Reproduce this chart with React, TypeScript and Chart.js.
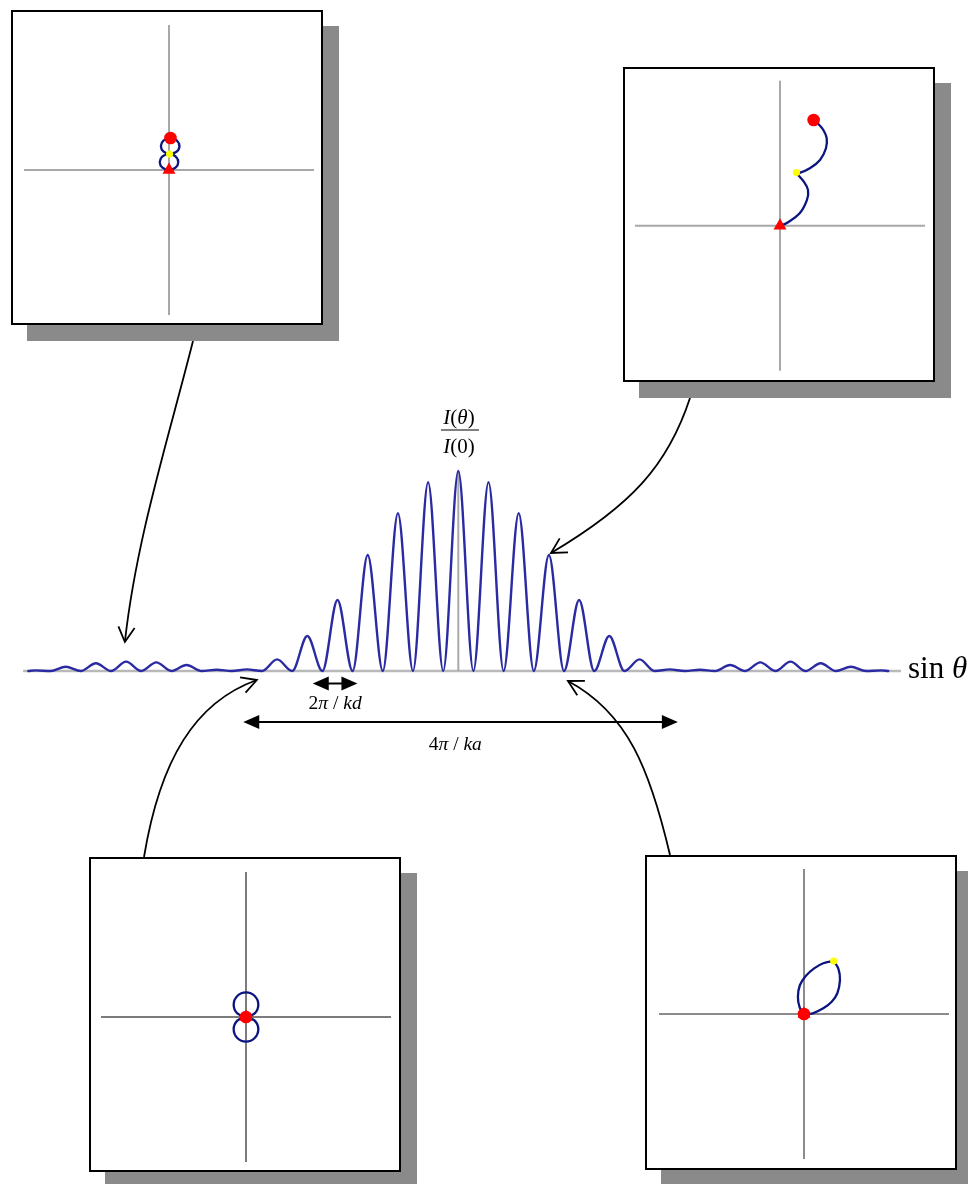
import React, { useEffect, useRef } from "react";
import { Chart, registerables } from "chart.js";

Chart.register(...registerables);

const PAGE_W = 968;
const PAGE_H = 1184;

// ---- Two-slit intensity pattern -------------------------------------------
// sinθ measured in units of the fringe spacing 2π/kd; intensity as I(θ)/I(0)
const brightOrder = [
  -14, -13, -12, -11, -10, -9, -8, -7, -6, -5, -4, -3, -2, -1, 0,
  1, 2, 3, 4, 5, 6, 7, 8, 9, 10, 11, 12, 13, 14,
];
const brightIntensity = [
  0.003, 0.021, 0.039, 0.047, 0.043, 0.03, 0.006, 0.008, 0.058, 0.175, 0.355, 0.58, 0.789, 0.944, 1.0,
  0.944, 0.789, 0.58, 0.355, 0.175, 0.058, 0.008, 0.006, 0.03, 0.043, 0.047, 0.039, 0.021, 0.003,
];
const darkOrder = [
  -13.5, -12.5, -11.5, -10.5, -9.5, -8.5, -7.5, -6.5, -5.5, -4.5, -3.5, -2.5, -1.5, -0.5,
  0.5, 1.5, 2.5, 3.5, 4.5, 5.5, 6.5, 7.5, 8.5, 9.5, 10.5, 11.5, 12.5, 13.5,
];
const patternEdges = [-14.24, 14.24];

// Axis extents of the main plot
const sinAxisRange = [-14.41, 14.66];
const intensityAxisTop = 1.0;

// Marked widths under the pattern (sinθ units)
const fringeWidthMark = [-4.82, -3.34];
const envelopeWidthMark = [-7.12, 7.27];

// Where the phasor insets point on the pattern (sinθ, intensity)
const pointerTips = [
  { x: -11.04, y: 0.145 },
  { x: 3.07, y: 0.59 },
  { x: -6.67, y: -0.045 },
  { x: 3.63, y: -0.05 },
];

// ---- Phasor diagrams (axis half-length = 10 units) -------------------------
type P = { x: number; y: number };
const pt = (x: number, y: number): P => ({ x, y });

const phasorAxis = [-10, 10];

// near a secondary envelope maximum: two small loops
const loopsFirstSlit: P[] = [
  pt(0, 0), pt(0.45, 0.16), pt(0.64, 0.55), pt(0.45, 0.94), pt(0, 1.1), pt(-0.45, 0.94),
  pt(-0.64, 0.55), pt(-0.45, 0.16), pt(0, 0), pt(0.45, 0.16), pt(0.64, 0.55), pt(0.45, 0.94), pt(0.04, 1.1),
];
const loopsSecondSlit: P[] = [
  pt(0.04, 1.1), pt(0.53, 1.26), pt(0.72, 1.65), pt(0.53, 2.04), pt(0.08, 2.2), pt(-0.37, 2.04),
  pt(-0.56, 1.65), pt(-0.37, 1.26), pt(0.08, 1.1), pt(0.53, 1.26), pt(0.72, 1.65), pt(0.53, 2.04), pt(0.1, 2.21),
];

// bright fringe on the envelope flank: two arcs in step
const arcFirstSlit: P[] = [
  pt(0, 0), pt(0.44, 0.17), pt(1.36, 0.86), pt(1.86, 1.78), pt(1.93, 2.47), pt(1.63, 3.05), pt(1.24, 3.51), pt(1.13, 3.67),
];
const arcSecondSlit: P[] = [
  pt(1.13, 3.67), pt(1.3, 3.62), pt(2.06, 3.96), pt(2.76, 4.53), pt(3.17, 5.34), pt(3.22, 6.03), pt(2.99, 6.6), pt(2.64, 7.01), pt(2.32, 7.29),
];

// envelope zero: each slit closes a full circle
const circleFirstSlit: P[] = [
  pt(0, 0), pt(0.6, 0.25), pt(0.85, 0.85), pt(0.6, 1.45), pt(0, 1.7), pt(-0.6, 1.45), pt(-0.85, 0.85), pt(-0.6, 0.25), pt(0, 0),
];
const circleSecondSlit: P[] = [
  pt(0, 0), pt(0.6, -0.25), pt(0.85, -0.85), pt(0.6, -1.45), pt(0, -1.7), pt(-0.6, -1.45), pt(-0.85, -0.85), pt(-0.6, -0.25), pt(0, 0),
];

// dark fringe: the second arc cancels the first
const lensFirstSlit: P[] = [
  pt(0, 0), pt(-0.3, 0.45), pt(-0.42, 1.19), pt(-0.28, 2.0), pt(0.15, 2.65), pt(0.7, 3.15), pt(1.33, 3.5), pt(2.05, 3.65),
];
const lensSecondSlit: P[] = [
  pt(2.05, 3.65), pt(2.38, 3.1), pt(2.48, 2.34), pt(2.3, 1.43), pt(1.91, 0.85), pt(1.33, 0.39), pt(0.6, 0.05), pt(0, 0),
];

// ---- text helpers ----------------------------------------------------------
type Run = { t: string; it?: boolean };
const SERIF = '"Liberation Serif", "DejaVu Serif", serif';

function drawRuns(
  ctx: CanvasRenderingContext2D,
  runs: Run[],
  x: number,
  baseline: number,
  size: number,
  align: "center" | "left" = "center"
) {
  const font = (r: Run) => `${r.it ? "italic " : ""}${size}px ${SERIF}`;
  let total = 0;
  for (const r of runs) {
    ctx.font = font(r);
    total += ctx.measureText(r.t).width;
  }
  let cx = align === "center" ? x - total / 2 : x;
  ctx.textAlign = "left";
  ctx.textBaseline = "alphabetic";
  for (const r of runs) {
    ctx.font = font(r);
    ctx.fillText(r.t, cx, baseline);
    cx += ctx.measureText(r.t).width;
  }
}

function openHead(ctx: CanvasRenderingContext2D, tx: number, ty: number, fx: number, fy: number) {
  const ang = Math.atan2(ty - fy, tx - fx);
  const len = 17;
  const spread = 0.5;
  ctx.beginPath();
  ctx.moveTo(tx - len * Math.cos(ang - spread), ty - len * Math.sin(ang - spread));
  ctx.lineTo(tx, ty);
  ctx.lineTo(tx - len * Math.cos(ang + spread), ty - len * Math.sin(ang + spread));
  ctx.stroke();
}

function doubleArrow(ctx: CanvasRenderingContext2D, x1: number, x2: number, y: number) {
  const head = 16;
  const half = 7;
  ctx.beginPath();
  ctx.moveTo(x1 + head - 2, y);
  ctx.lineTo(x2 - head + 2, y);
  ctx.stroke();
  ctx.beginPath();
  ctx.moveTo(x1, y);
  ctx.lineTo(x1 + head, y - half);
  ctx.lineTo(x1 + head, y + half);
  ctx.closePath();
  ctx.fill();
  ctx.beginPath();
  ctx.moveTo(x2, y);
  ctx.lineTo(x2 - head, y - half);
  ctx.lineTo(x2 - head, y + half);
  ctx.closePath();
  ctx.fill();
}

// curved pointers: start / control points in page pixels, tip from pointerTips
const pointerPaths = [
  { from: [193, 341], c1: [168, 440], c2: [136, 540] },
  { from: [690, 398], c1: [668, 465], c2: [632, 505] },
  { from: [144, 857], c1: [160, 760], c2: [195, 702] },
  { from: [670, 855], c1: [650, 770], c2: [628, 713] },
];

const figurePlugin = {
  id: "figureDecor",
  beforeDatasetsDraw(chart: Chart) {
    const ctx = chart.ctx;
    const xs = chart.scales.x;
    const ys = chart.scales.y;
    ctx.save();
    ctx.lineCap = "butt";
    // sinθ axis
    ctx.strokeStyle = "#b9b9b9";
    ctx.lineWidth = 2.5;
    ctx.beginPath();
    ctx.moveTo(xs.getPixelForValue(sinAxisRange[0]), ys.getPixelForValue(0));
    ctx.lineTo(xs.getPixelForValue(sinAxisRange[1]), ys.getPixelForValue(0));
    ctx.stroke();
    // intensity axis
    ctx.strokeStyle = "#a9a9a9";
    ctx.lineWidth = 2;
    ctx.beginPath();
    ctx.moveTo(xs.getPixelForValue(0), ys.getPixelForValue(0));
    ctx.lineTo(xs.getPixelForValue(0), ys.getPixelForValue(intensityAxisTop));
    ctx.stroke();
    ctx.restore();
  },
  afterDatasetsDraw(chart: Chart) {
    const ctx = chart.ctx;
    const xs = chart.scales.x;
    const ys = chart.scales.y;
    const X = (v: number) => xs.getPixelForValue(v);
    const Y = (v: number) => ys.getPixelForValue(v);
    ctx.save();
    ctx.fillStyle = "#000";
    ctx.strokeStyle = "#000";

    // axis labels
    drawRuns(ctx, [{ t: "sin " }, { t: "θ", it: true }], X(sinAxisRange[1]) + 7, Y(0) + 7, 31, "left");
    const ax = X(0) + 0.7;
    const top = Y(intensityAxisTop);
    drawRuns(ctx, [{ t: "I", it: true }, { t: "(" }, { t: "θ", it: true }, { t: ")" }], ax, top - 47, 21);
    ctx.lineWidth = 1.2;
    ctx.beginPath();
    ctx.moveTo(ax - 18, top - 41);
    ctx.lineTo(ax + 20, top - 41);
    ctx.stroke();
    drawRuns(ctx, [{ t: "I", it: true }, { t: "(0)" }], ax, top - 18, 21);

    // width markers
    ctx.lineWidth = 2;
    const yf = Y(0) + 12.5;
    doubleArrow(ctx, X(fringeWidthMark[0]), X(fringeWidthMark[1]), yf);
    drawRuns(
      ctx,
      [{ t: "2" }, { t: "π", it: true }, { t: " / " }, { t: "kd", it: true }],
      (X(fringeWidthMark[0]) + X(fringeWidthMark[1])) / 2,
      yf + 25,
      19.5
    );
    const ye = Y(0) + 51;
    doubleArrow(ctx, X(envelopeWidthMark[0]), X(envelopeWidthMark[1]), ye);
    drawRuns(
      ctx,
      [{ t: "4" }, { t: "π", it: true }, { t: " / " }, { t: "ka", it: true }],
      X(0) - 3,
      ye + 28,
      19.5
    );

    // curved pointers from the phasor insets
    ctx.lineWidth = 1.8;
    pointerPaths.forEach((p, i) => {
      const tx = X(pointerTips[i].x);
      const ty = Y(pointerTips[i].y);
      ctx.beginPath();
      ctx.moveTo(p.from[0], p.from[1]);
      ctx.bezierCurveTo(p.c1[0], p.c1[1], p.c2[0], p.c2[1], tx, ty);
      ctx.stroke();
      openHead(ctx, tx, ty, p.c2[0], p.c2[1]);
    });
    ctx.restore();
  },
};

function PatternChart() {
  const ref = useRef<HTMLCanvasElement>(null);
  useEffect(() => {
    if (!ref.current) return;
    const table: P[] = [];
    brightOrder.forEach((x, i) => table.push({ x, y: brightIntensity[i] }));
    darkOrder.forEach((x) => table.push({ x, y: 0 }));
    patternEdges.forEach((x) => table.push({ x, y: 0 }));
    table.sort((a, b) => a.x - b.x);

    // 30.2 px per fringe, 200 px per unit intensity, origin at (458.3, 671)
    const ox = 458.3;
    const oy = 671;
    const sx = 30.2;
    const sy = 200;
    const chart = new Chart(ref.current, {
      type: "scatter",
      data: {
        datasets: [
          {
            data: table,
            showLine: true,
            cubicInterpolationMode: "monotone",
            borderColor: "#2a2aa2",
            borderWidth: 2.4,
            borderJoinStyle: "round",
            borderCapStyle: "round",
            pointRadius: 0,
            clip: false,
          } as any,
        ],
      },
      options: {
        animation: false,
        responsive: false,
        devicePixelRatio: 1,
        events: [],
        layout: { padding: 0, autoPadding: false },
        plugins: { legend: { display: false }, tooltip: { enabled: false } },
        scales: {
          x: { type: "linear", display: false, min: -ox / sx, max: (PAGE_W - ox) / sx },
          y: { type: "linear", display: false, min: -(PAGE_H - oy) / sy, max: oy / sy },
        },
      },
      plugins: [figurePlugin as any],
    });
    return () => chart.destroy();
  }, []);
  return (
    <canvas
      ref={ref}
      width={PAGE_W}
      height={PAGE_H}
      style={{ position: "absolute", left: 0, top: 0, width: PAGE_W, height: PAGE_H }}
    />
  );
}

type InsetProps = {
  left: number;
  top: number;
  originX: number;
  originY: number;
  first: P[];
  second: P[];
  start: P;
  middle: P;
  end: P;
  axisColor: string;
};

const INSET_W = 312;
const INSET_H = 315;
const UNIT = 14.5; // px per phasor unit

function PhasorInset({ left, top, originX, originY, first, second, start, middle, end, axisColor }: InsetProps) {
  const ref = useRef<HTMLCanvasElement>(null);
  const cw = INSET_W - 4;
  const ch = INSET_H - 4;
  useEffect(() => {
    if (!ref.current) return;
    const lineSet = (data: P[], color: string, width: number, order: number, tension = 0) => ({
      data,
      showLine: true,
      borderColor: color,
      borderWidth: width,
      pointRadius: 0,
      tension,
      order,
      clip: false,
    });
    const marker = (p: P, style: string, radius: number, color: string, order: number) => ({
      data: [p],
      pointStyle: style,
      pointRadius: radius,
      backgroundColor: color,
      borderColor: color,
      borderWidth: 0,
      order,
      clip: false,
    });
    const chart = new Chart(ref.current, {
      type: "scatter",
      data: {
        datasets: [
          lineSet([pt(phasorAxis[0], 0), pt(phasorAxis[1], 0)], axisColor, 2, 10),
          lineSet([pt(0, phasorAxis[0]), pt(0, phasorAxis[1])], axisColor, 2, 10),
          lineSet(first, "#0b1580", 2.3, 5, 0.4),
          lineSet(second, "#0b1580", 2.3, 5, 0.4),
          marker(middle, "circle", 3.6, "#ffff00", 2),
          marker(start, "triangle", 7.5, "#ff0000", 1),
          marker(end, "circle", 6.3, "#ff0000", 0),
        ] as any,
      },
      options: {
        animation: false,
        responsive: false,
        devicePixelRatio: 1,
        events: [],
        layout: { padding: 0, autoPadding: false },
        plugins: { legend: { display: false }, tooltip: { enabled: false } },
        scales: {
          x: { type: "linear", display: false, min: -originX / UNIT, max: (cw - originX) / UNIT },
          y: { type: "linear", display: false, min: -(ch - originY) / UNIT, max: originY / UNIT },
        },
      },
    });
    return () => chart.destroy();
  }, []);
  return (
    <div
      style={{
        position: "absolute",
        left,
        top,
        width: INSET_W,
        height: INSET_H,
        boxSizing: "border-box",
        border: "2px solid #000",
        background: "#fff",
        boxShadow: "16px 16px 0 #8a8a8a",
      }}
    >
      <canvas ref={ref} width={cw} height={ch} style={{ display: "block", width: cw, height: ch }} />
    </div>
  );
}

export default function App() {
  return (
    <div
      style={{
        position: "absolute",
        left: 0,
        top: 0,
        width: PAGE_W,
        height: PAGE_H,
        overflow: "hidden",
        background: "#fff",
      }}
    >
      <PatternChart />
      <PhasorInset
        left={11}
        top={10}
        originX={156}
        originY={158}
        first={loopsFirstSlit}
        second={loopsSecondSlit}
        start={pt(0, 0)}
        middle={pt(0.04, 1.1)}
        end={pt(0.1, 2.21)}
        axisColor="#a8a8a8"
      />
      <PhasorInset
        left={623}
        top={67}
        originX={155}
        originY={156.7}
        first={arcFirstSlit}
        second={arcSecondSlit}
        start={pt(0, 0)}
        middle={pt(1.13, 3.67)}
        end={pt(2.32, 7.29)}
        axisColor="#a8a8a8"
      />
      <PhasorInset
        left={89}
        top={857}
        originX={155}
        originY={158}
        first={circleFirstSlit}
        second={circleSecondSlit}
        start={pt(0, 0)}
        middle={pt(0, 0)}
        end={pt(0, 0)}
        axisColor="#7c7c7c"
      />
      <PhasorInset
        left={645}
        top={855}
        originX={157}
        originY={157}
        first={lensFirstSlit}
        second={lensSecondSlit}
        start={pt(0, 0)}
        middle={pt(2.05, 3.65)}
        end={pt(0, 0)}
        axisColor="#8c8c8c"
      />
    </div>
  );
}
